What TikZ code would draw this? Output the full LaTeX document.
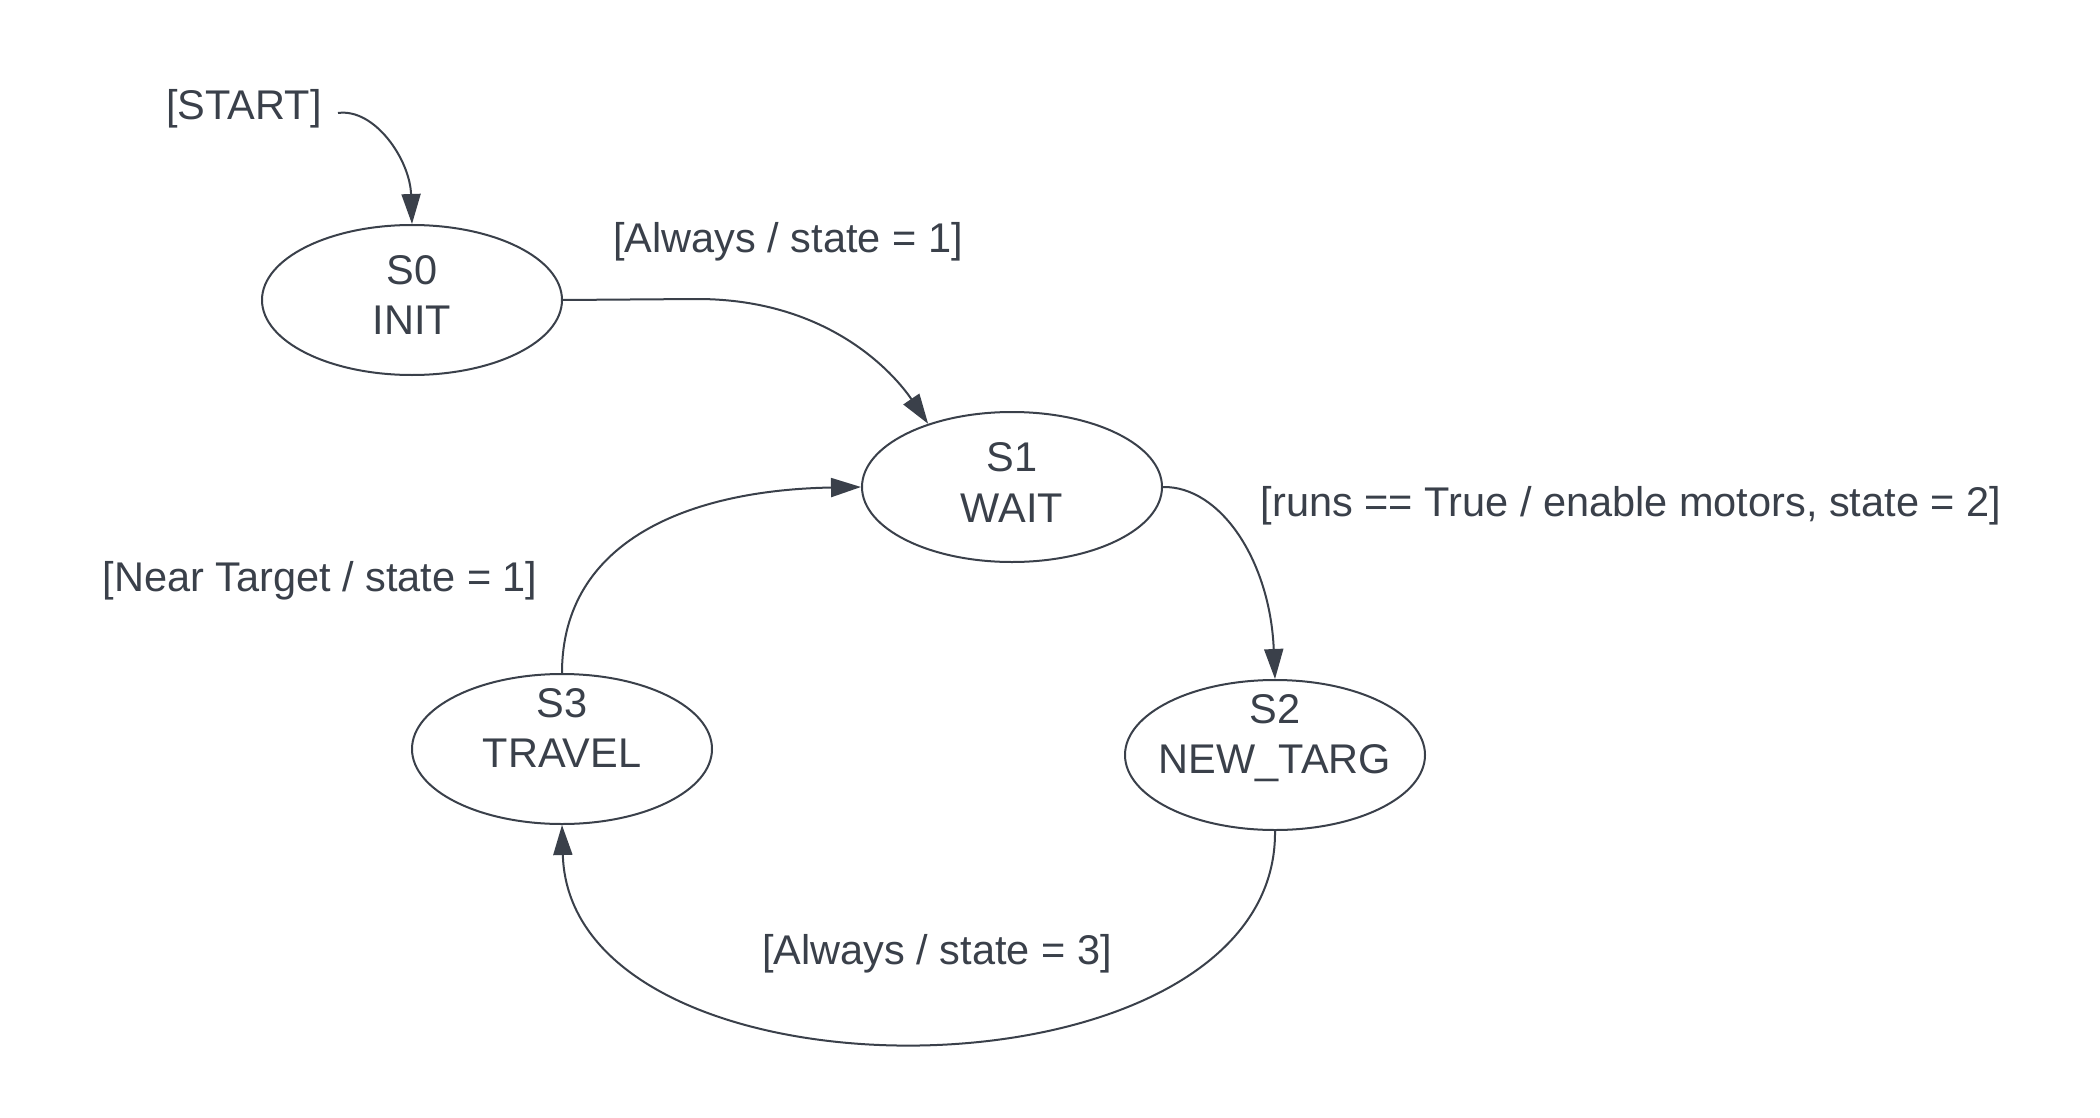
\documentclass[tikz,border=0pt]{standalone}
\usepackage{fontspec}
\setmainfont{Liberation Sans}
\usetikzlibrary{shapes.geometric,arrows.meta}
\definecolor{ink}{RGB}{58,64,74}
\tikzset{
  statebox/.style={draw=ink, line width=2pt, shape=ellipse, minimum width=300pt, minimum height=150pt, inner sep=0pt},
  stxt/.style={text=ink, font=\fontsize{41.5}{50}\selectfont, anchor=base, inner sep=0pt},
  lbl/.style={text=ink, font=\fontsize{41.5}{50}\selectfont, inner sep=0pt},
  conn/.style={draw=ink, line width=2pt, -{Triangle[length=30pt,width=19pt]}}
}
\begin{document}
\begin{tikzpicture}[x=1pt,y=-1pt]
\useasboundingbox[fill=white] (0,0) rectangle (2100,1118);
% states
\node[statebox] (s0) at (412,300) {};
\node[statebox] (s1) at (1012,487) {};
\node[statebox] (s2) at (1275,755) {};
\node[statebox] (s3) at (562,749) {};
\node[stxt] (s0a) at (412,284) {S0};
\node[stxt] (s0b) at (412,334) {INIT};
\node[stxt] (s1a) at (1012,471) {S1};
\node[stxt] (s1b) at (1012,522) {WAIT};
\node[stxt] (s2a) at (1275,723) {S2};
\node[stxt] (s2b) at (1275,773) {NEW\_TARG};
\node[stxt] (s3a) at (562,717) {S3};
\node[stxt] (s3b) at (562,767) {TRAVEL};
% labels
\node[lbl] (start) at (244,109) {[START]};
\coordinate (startpt) at (338,113);
\node[lbl] (l01) at (788,242) {[Always / state = 1]};
\node[lbl] (l12) at (1631,506) {[runs == True / enable motors, state = 2]};
\node[lbl] (l31) at (320,581) {[Near Target / state = 1]};
\node[lbl] (l23) at (937,954) {[Always / state = 3]};
% connectors
\draw[conn] (startpt) .. controls (375,108) and (410,160) .. (s0.north);
\draw[conn] (s0.east) -- (697,299) .. controls (830,299) and (895,375) .. (s1.143);
\draw[conn] (s1.east) .. controls (1220,486) and (1270,560) .. (s2.north);
\draw[conn] (s2.south) .. controls (1278,1110) and (570,1116) .. (s3.south);
\draw[conn] (s3.north) .. controls (562,540) and (690,490) .. (s1.west);
\end{tikzpicture}
\end{document}
